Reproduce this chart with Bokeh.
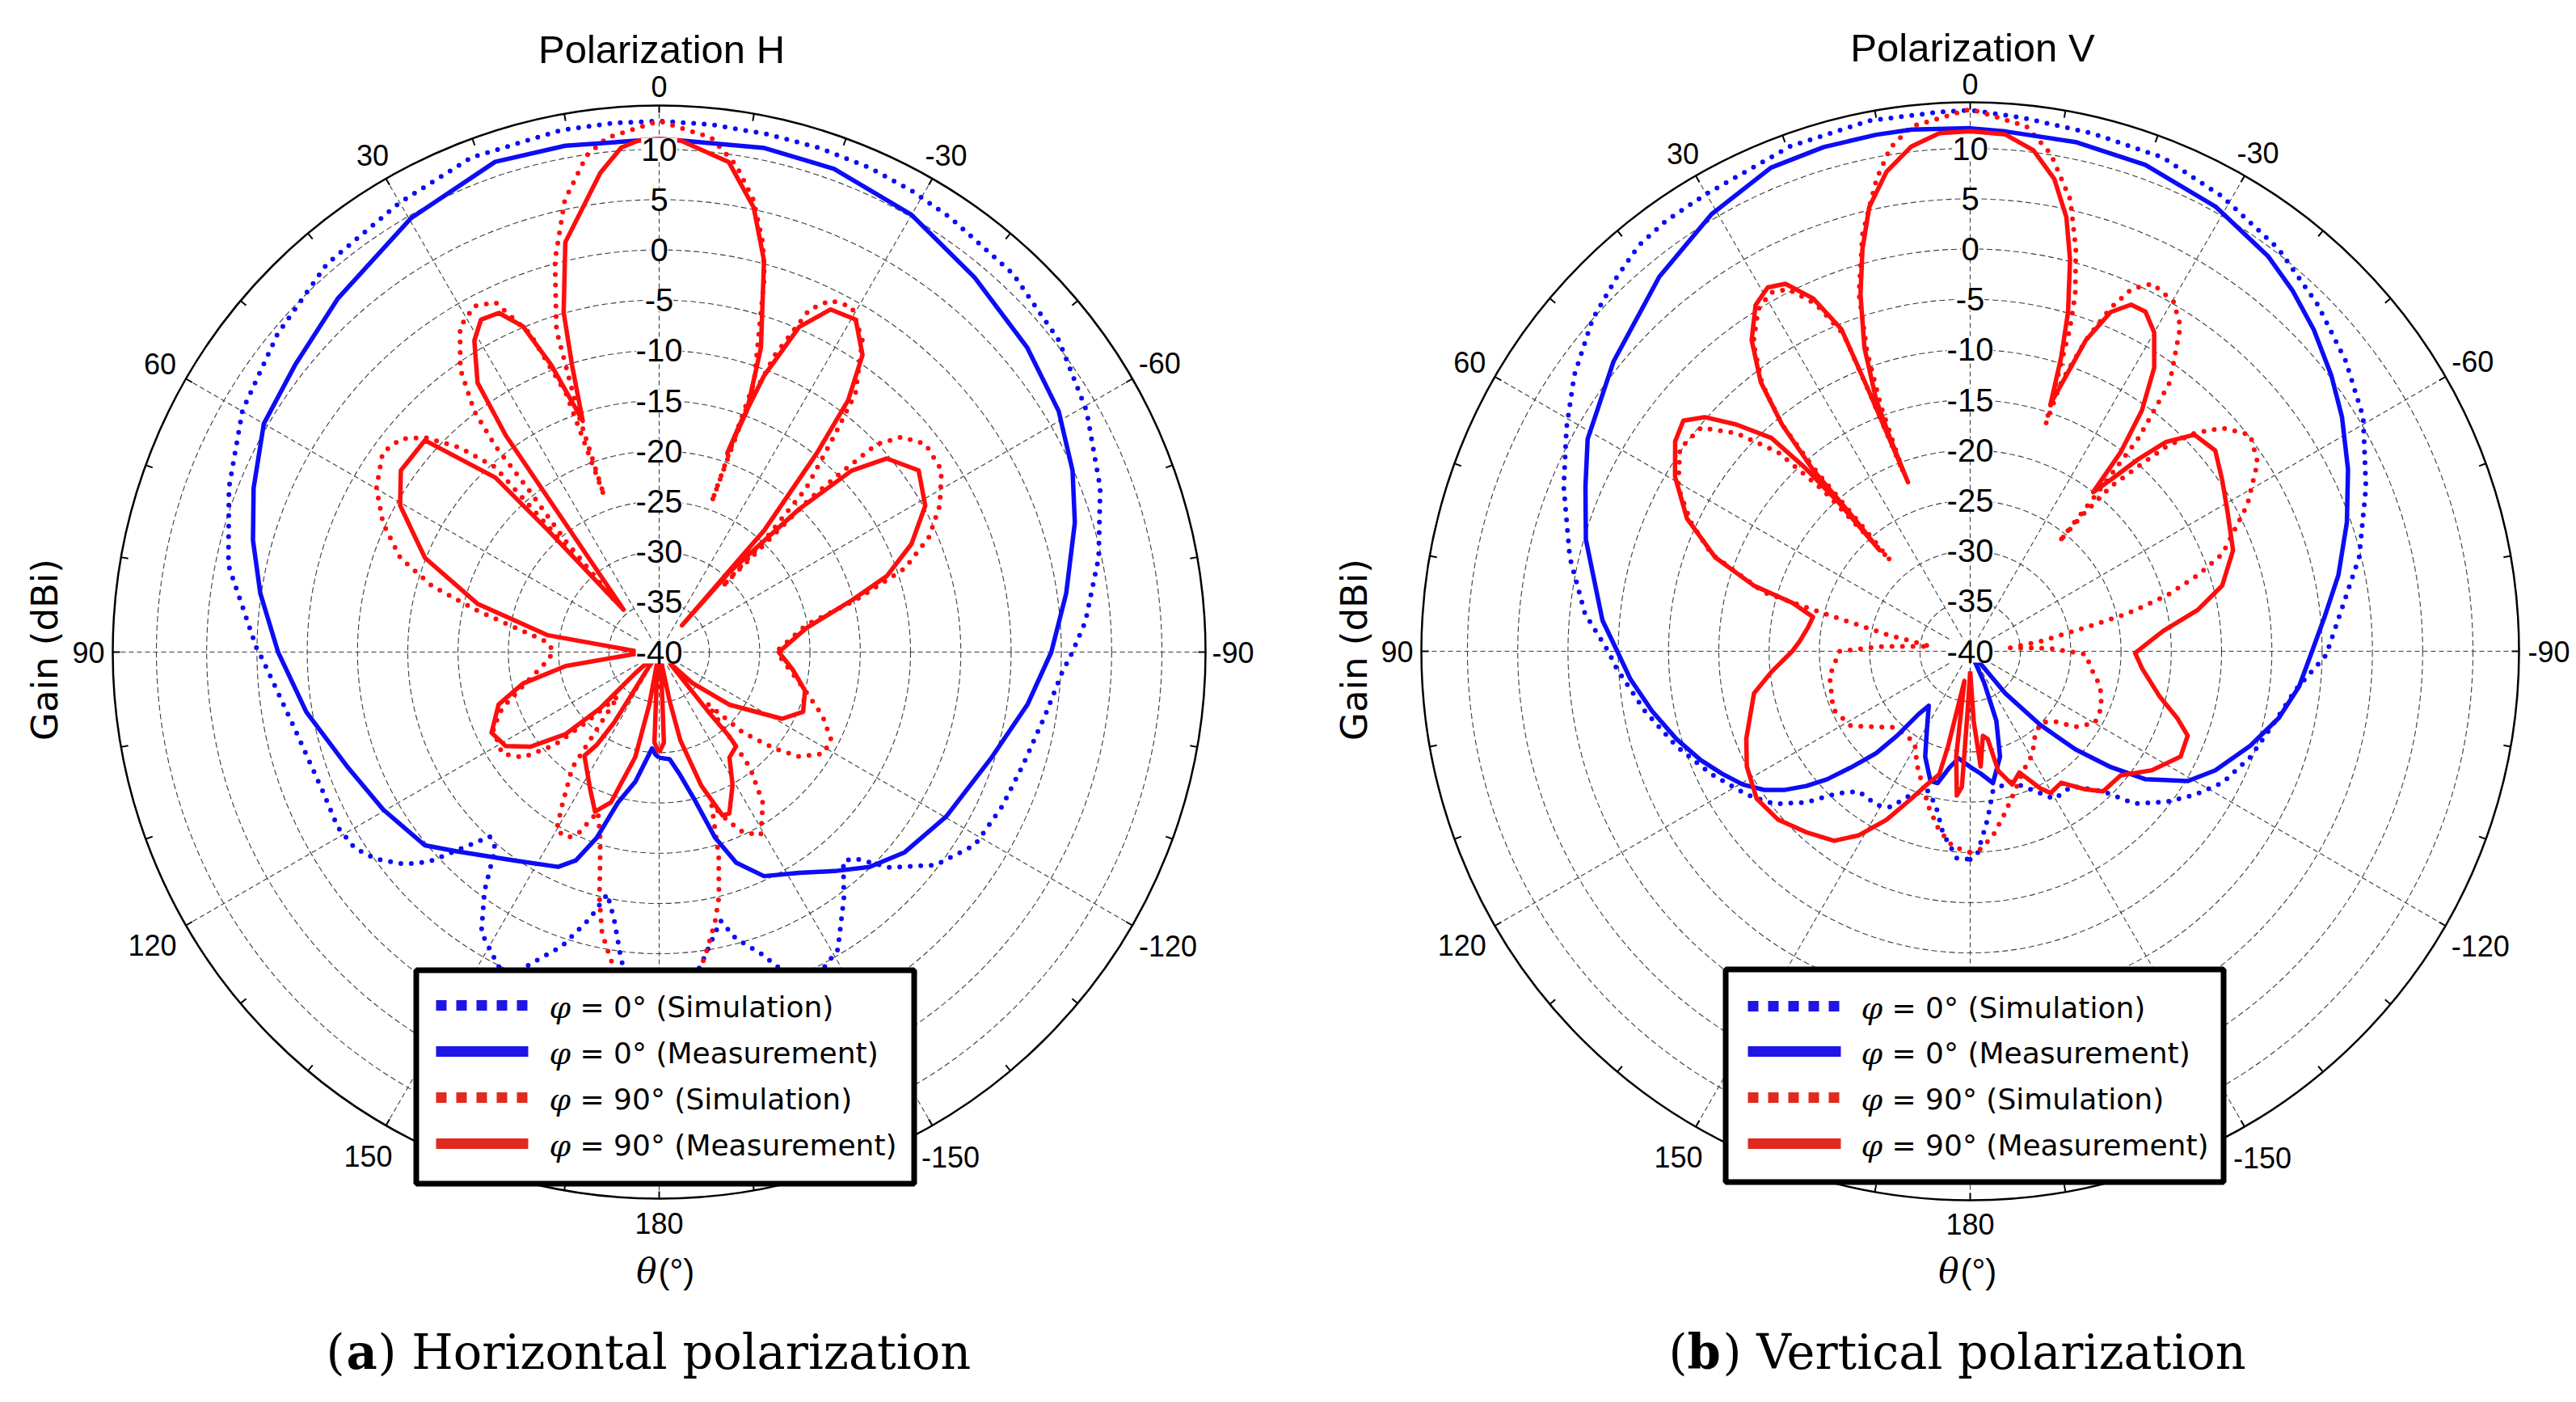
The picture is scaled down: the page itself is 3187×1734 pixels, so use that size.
import numpy as np
from bokeh.plotting import figure
from bokeh.layouts import row
from bokeh.models import Range1d
from bokeh.embed import file_html
from bokeh.resources import INLINE
from bokeh.core.properties import value

# ---------------- data: (theta in degrees, gain in dBi) ----------------
# (a) Horizontal polarization
H_SIM0 = [(-180, -4), (-176, -5.5), (-172.3, -8.7), (-167.1, -12.6), (-165, -10.5), (-161.4, -8.4),
          (-159.3, -6.5), (-156, -4.5), (-152.4, -4.6), (-149, -5.5), (-143.1, -9.4), (-138.6, -12.3),
          (-136.5, -11.7), (-133, -8.6), (-127.6, -5.3), (-121.4, -3.2), (-114.2, -2.6), (-107.1, -2.1),
          (-99.3, -1.1), (-93, 0.1), (-90, 1.1), (-85.9, 2.5), (-77.9, 4.7), (-69.6, 6.8), (-60.6, 8.8),
          (-52.1, 10.4), (-43.1, 11.5), (-33.8, 12.0), (-28.6, 12.3), (-23.5, 12.5), (-17.7, 12.6),
          (-11.8, 12.6), (-5.7, 12.7), (0, 12.8), (5, 12.8), (10.6, 12.8), (20.8, 12.6), (30, 11.6),
          (40.6, 10.8), (50.2, 9.4), (59.9, 7.9), (69.1, 5.8), (78.6, 3.7), (89.6, 0.0), (90.9, -0.5),
          (100.8, -2.8), (112.7, -3.8), (118.6, -3.6), (122.8, -4.0), (126.1, -5.1), (129.7, -7.0),
          (132.3, -9.0), (135.6, -13.2), (137.4, -15.1), (140.1, -14.6), (143.8, -10.6), (147.6, -7.0),
          (152, -5.3), (155, -4.0), (157.5, -6.4), (161.7, -9.2), (165.4, -12.6), (167.9, -15.4),
          (170.4, -13.1), (173, -9.1), (176, -5.5), (180, -4)]

H_MEAS0 = [(-180, -29.5), (-174.4, -29.3), (-170.3, -27.6), (-166.6, -25.0), (-163.2, -20.7), (-159.9, -17.7),
           (-154.9, -15.4), (-147.6, -14.0), (-141.3, -12.1), (-135.6, -10.1), (-129.2, -8.5), (-119.8, -7.1),
           (-107.5, -5.3), (-98.1, -3.0), (-90, -1.0), (-81.8, 0.9), (-72.7, 3.3), (-66.3, 4.9), (-58.9, 6.4),
           (-50.4, 7.5), (-40.1, 8.7), (-30, 10.2), (-19.9, 11.1), (-11.8, 11.2), (-2.4, 10.9), (0, 11.0),
           (2.3, 10.9), (10.5, 11.2), (18.5, 11.4), (29.8, 9.7), (42.3, 7.5), (51.8, 6.1), (60, 5.4), (68, 3.5),
           (74.6, 1.9), (81.6, 0.1), (90, -2.1), (99.6, -4.4), (110.4, -7.0), (119.7, -8.4), (129.5, -9.8),
           (134.4, -11.7), (144.9, -14.7), (154.8, -16.4), (158.2, -17.7), (161.4, -20.5), (164.7, -24.5),
           (169.6, -26.9), (175.8, -30.4), (178, -29.8), (180, -29.5)]

H_SIM90 = [(-180, -4), (-176, -5), (-171.5, -9.3), (-168.3, -12.6), (-166.3, -14.9), (-163.7, -18.9), (-161, -24),
           (-158, -22), (-155, -20.2), (-150.9, -19.2), (-145.5, -21.8), (-141.8, -25.4), (-137, -33),
           (-133.8, -28.4), (-129.8, -25.0), (-126.7, -22.6), (-121.7, -20.8), (-117, -20.8), (-111.2, -22.6),
           (-103.7, -25.3), (-93.3, -27.8), (-88.7, -28.1), (-79.5, -25.1), (-75.2, -19.8), (-71.2, -14.2),
           (-66.9, -10.8), (-62.4, -8.5), (-57.2, -6.6), (-52, -6.4), (-48.4, -7.8), (-46.3, -10.1),
           (-45.6, -13.7), (-44.5, -18.6), (-44, -31), (-43.3, -24.8), (-41.9, -18.1), (-39, -12.3),
           (-37.2, -7.7), (-33.1, -3.0), (-29.2, -0.7), (-26, -1.1), (-23.7, -2.8), (-21.3, -8.3),
           (-19.7, -14.2), (-19.3, -24.2), (-19.4, -11.6), (-16.7, -4.8), (-15.7, -1.3), (-14.2, 2.0),
           (-11.8, 5.9), (-9, 9.0), (-5.8, 11.4), (0, 12.8), (5.8, 11.4), (8.3, 9.9), (11.8, 5.9), (14.9, 0.3),
           (17.7, -6.4), (18.8, -15.4), (19.4, -23.5), (19.8, -12.7), (22.1, -5.8), (25.1, -1.6), (28.1, -1.0),
           (31.5, -2.1), (35.1, -5.6), (37.5, -9.8), (38.5, -13.8), (38.8, -19.3), (40.1, -25.5), (40.8, -33),
           (41.6, -15.4), (44.3, -11.6), (47.5, -8.4), (50.5, -6.7), (54.2, -6.1), (59.9, -7.5), (65, -9.7),
           (70, -12.6), (73.8, -16.5), (77.2, -21.5), (85, -28.9), (90, -29.5), (96, -28.5), (103.8, -26.1),
           (109.7, -23.4), (114.9, -21.8), (122.9, -21.4), (127.7, -22.9), (131.6, -26.1), (134, -30),
           (137, -34), (143.1, -25.6), (147.7, -21.9), (150.1, -19.5), (154, -19.5), (156.1, -20.4), (159, -23),
           (162.4, -20.6), (164.3, -18.3), (166.3, -14.9), (168.5, -11.5), (171.1, -9.0), (175, -5.5), (180, -4)]

H_MEAS90 = [(-180, -30), (-177, -31), (-174, -38), (-172, -40), (-167.9, -35), (-166.5, -31), (-162.5, -26.1),
            (-158.8, -22.6), (-156.5, -22.5), (-151.1, -24.9), (-146.3, -27.4), (-140.8, -27.9), (-140.2, -29.1),
            (-140.5, -32.3), (-136, -38.5), (-133, -35.5), (-126.9, -31.3), (-118.5, -26.1), (-112.5, -24.5),
            (-104.8, -25.0), (-97.5, -26.6), (-90, -28.1), (-80.8, -25.2), (-74.9, -20.1), (-71.5, -16.1),
            (-66.8, -12.7), (-61.2, -9.8), (-55, -8.5), (-49.6, -10.3), (-46.7, -13.7), (-44.4, -20.1),
            (-41.3, -29.4), (-40.5, -36.5), (-40.8, -24.0), (-38.4, -14.7), (-36.9, -8.7), (-34.4, -4.2),
            (-30.6, -1.6), (-26.6, -1.9), (-23.3, -4.8), (-20.8, -10.6), (-19.5, -16), (-18.9, -19.1),
            (-20, -14.5), (-18.5, -8.1), (-15, 0.3), (-12, 5.2), (-8.1, 9.2), (-2.4, 10.9), (0, 11.0),
            (2.3, 10.9), (4.3, 10.3), (7, 8.0), (12.9, 1.8), (15.7, -4.9), (16.9, -10.2), (18.3, -15.8),
            (20.6, -9.5), (22.7, -4.9), (25.3, -2.7), (28.2, -2.5), (30.7, -4.0), (34, -7.7), (35.3, -13.6),
            (36.1, -24.1), (40, -34.5), (42.4, -23.6), (43.2, -16.2), (47.9, -8.6), (54.9, -8.6), (60.5, -10.4),
            (68.1, -14.9), (75.1, -21.3), (81.4, -28.8), (87.5, -37.6), (90, -40), (94.2, -37.6), (98.5, -30.6),
            (103, -26.1), (108.1, -23.2), (115.7, -21.5), (121.5, -22.1), (126.3, -24.1), (131.2, -27.6),
            (133.6, -31.9), (131.4, -36.8), (138, -40), (145, -38.3), (147.4, -31.7), (146.1, -28.9),
            (144.2, -27.3), (153.1, -24.8), (158.1, -22.9), (162.2, -24.3), (167.2, -29.3), (169.4, -34.7),
            (172, -40), (174, -38), (177, -31), (180, -30)]

# (b) Vertical polarization
V_SIM0 = [(-180, -19.3), (-178, -19.8), (-174.1, -23.2), (-170.8, -25.9), (-163.4, -26.5), (-158.7, -25.6),
          (-150.3, -23.1), (-143, -23.2), (-136.5, -20.8), (-132.8, -17.7), (-127.5, -15.4), (-122.6, -13.5),
          (-117.5, -11.7), (-110.6, -10.2), (-103, -8.9), (-96.7, -7.4), (-90.6, -4.6), (-85.2, -3.3),
          (-76.4, -0.2), (-67.5, 2.6), (-59.2, 5.5), (-52.3, 7.2), (-45.1, 8.8), (-37.5, 10.4), (-29, 11.7),
          (-21.3, 12.7), (-13.3, 12.9), (-5.6, 13.3), (0, 13.8), (3.3, 13.7), (10.8, 13.7), (19.6, 13.3),
          (30, 12.5), (35.3, 12.4), (39.2, 12.1), (43.3, 11.2), (48.7, 10.0), (55.1, 8.0), (61, 5.9), (68, 3.6),
          (76.8, 0.9), (84.4, -1.5), (90, -4.0), (92.8, -4.8), (100.4, -7.1), (107.9, -9.3), (115.4, -11.5),
          (122.7, -13.6), (127.9, -15.3), (132.6, -17.8), (137, -20.7), (141.5, -22.2), (148.7, -22.1),
          (152.9, -22.6), (157.7, -24.6), (163, -25.5), (167.4, -24.3), (171.5, -21.7), (176.3, -19.4),
          (180, -19.3)]

V_MEAS0 = [(-180, -28.5), (-175.1, -27.8), (-170.2, -26.7), (-164.2, -29.1), (-159.4, -32.6), (-156, -36.6),
           (-153, -40), (-140.2, -34.6), (-136.4, -29.9), (-133, -25.7), (-129.5, -21.9), (-126.1, -18.4),
           (-120.8, -14.8), (-115.9, -12.9), (-108.6, -10.6), (-102.2, -8.6), (-96.1, -7.1), (-90, -6.0),
           (-84.5, -4.6), (-78.3, -2.6), (-71.1, -0.4), (-64.3, 1.7), (-57.8, 3.7), (-52.6, 5.2), (-46.9, 6.8),
           (-41.8, 8.1), (-37, 9.2), (-28.9, 10.5), (-19.8, 11.4), (-11.7, 11.7), (-3.9, 11.8), (0, 12.0),
           (6.4, 12.2), (10.3, 12.2), (16.2, 12.2), (22.4, 12.0), (30.6, 10.5), (39.7, 8.4), (50.9, 5.7),
           (61, 3.5), (66.9, 1.6), (73.8, -0.2), (85.2, -3.3), (90, -4.9), (94.7, -6.1), (100.6, -7.8),
           (106.6, -9.5), (112, -11.1), (116.3, -12.5), (120.4, -13.8), (123.9, -15.3), (126.8, -17.0),
           (129.4, -18.9), (131.8, -20.9), (134.3, -23.5), (137.3, -26.2), (139.1, -28.9), (140.6, -31.9),
           (142.7, -33.2), (150.8, -31.2), (156.9, -28.6), (163, -26.5), (166.1, -26.5), (170, -28.3),
           (173.8, -29.3), (180, -28.5)]

V_SIM90 = [(-180, -20), (-177, -20.3), (-173, -21.5), (-168, -23.5), (-162, -25.5), (-156, -27), (-149, -28),
           (-142, -29.5), (-135, -30), (-129.8, -29.1), (-125.6, -27.1), (-120, -25.7), (-113.1, -25.8),
           (-105.1, -26.6), (-98.4, -27.8), (-91.5, -28.5), (-88, -32), (-85, -36), (-82, -33), (-78.4, -28.3),
           (-76.5, -23.9), (-74.2, -19.7), (-71.5, -16.1), (-68.9, -13.1), (-62.1, -8.8), (-56.7, -5.8),
           (-52.3, -4.8), (-48.5, -6.5), (-45.8, -8.9), (-43.8, -11.8), (-42.3, -15.1), (-40.5, -18.5),
           (-39.5, -22.5), (-39.1, -26), (-38.8, -20), (-38.3, -13), (-36.6, -6.7), (-32.9, -1.5), (-30.2, 0.2),
           (-26.4, 0.8), (-24, -0.6), (-22.2, -3.2), (-20.4, -7), (-18.7, -11.7), (-18.4, -16.2), (-17.2, -6.5),
           (-16.4, -3), (-14.7, 1.4), (-12.5, 6), (-9.2, 10.1), (-6.1, 12.5), (0, 13.9), (6.4, 12.5), (9, 10.7),
           (11.2, 7.9), (14.5, 2.8), (17.3, -2.8), (19, -8.5), (20, -14), (20.5, -21), (21.3, -12.5),
           (21.8, -6), (24, -2.2), (26.7, 0.3), (29.1, 0.8), (31.8, 0), (35.1, -2.5), (37.9, -6.3),
           (39.7, -10.7), (40.5, -16), (40.8, -23.1), (41.3, -28), (42.4, -18.4), (44, -12.5), (47, -8.2),
           (50.3, -5.2), (55.1, -4.8), (60.7, -6.7), (65.2, -9.4), (69.4, -12.5), (74.1, -18.7), (75.5, -25),
           (78.6, -31.5), (83, -36), (87, -31), (90, -27), (100, -25.8), (113, -25.2), (122, -26),
           (128, -27.8), (135, -29.3), (142, -29.5), (149, -29.3), (155, -27.5), (160, -26), (165, -24),
           (170, -22), (175, -20.5), (180, -20)]

V_MEAS90 = [(-180, -38), (-177.1, -33.0), (-174.8, -28.5), (-171.5, -31.5), (-168.7, -31.1), (-166.8, -27.8),
            (-162.5, -26.1), (-157.9, -27.0), (-152.9, -24.7), (-150.4, -23.8), (-145.3, -24.1), (-140.1, -22.1),
            (-136.5, -20.8), (-129.5, -20.6), (-123.2, -18.4), (-116.6, -16.6), (-111.2, -16.8), (-107.8, -18.4),
            (-103.5, -20.6), (-95.8, -22.8), (-90.6, -23.6), (-84, -20.7), (-79.7, -17.0), (-75.4, -14.1),
            (-69, -12.0), (-61.6, -10.9), (-55.8, -9.7), (-50.7, -8.5), (-46, -9.0), (-43.1, -11.5),
            (-41.2, -14.6), (-39.3, -18.0), (-37.7, -20.0), (-37.1, -15.2), (-35.5, -10.6), (-33, -6.4),
            (-30, -3.4), (-27.3, -2.0), (-24.9, -2.0), (-22.5, -3.5), (-20.4, -7.0), (-19.1, -11.3), (-18, -14.1),
            (-17.2, -9.4), (-16.1, -4.9), (-14.3, 0.2), (-12.5, 4.2), (-10.1, 7.7), (-7.2, 10.2), (-3.9, 11.5),
            (0, 11.7), (3.4, 11.6), (6.7, 10.5), (9.9, 8.4), (12.8, 5.3), (15, 1.4), (17.1, -2.9), (19.2, -8.0),
            (20.5, -13.3), (20.6, -17.4), (20.2, -22.1), (21.3, -12.0), (21.8, -5.5), (24, -1.6), (26.7, 0.9),
            (29.1, 1.4), (31.8, 0.5), (35.1, -2.2), (37.9, -6.1), (39.7, -10.7), (40.9, -16.1), (41.1, -22.1),
            (41.9, -26.5), (41.5, -20.3), (42, -15.4), (43, -11.0), (45.9, -7.6), (48.6, -4.8), (51.2, -3.4),
            (54.6, -4.0), (59.4, -5.9), (64.9, -8.9), (69.8, -13.0), (73.1, -17.5), (74.8, -21.7), (77.7, -24.0),
            (81.6, -23.7), (86.7, -23.0), (90, -22.3), (96, -20.1), (101, -18.1), (111.3, -16.1), (117.3, -15.0),
            (124.6, -14.2), (131.2, -14.6), (137.7, -15.7), (144.3, -16.8), (148.8, -18.6), (153.6, -21.3),
            (158.2, -24.2), (161.6, -25.9), (165.9, -27.4), (166.9, -30.3), (167.5, -34.1), (169, -37),
            (172.4, -29.5), (174.7, -25.6), (176.5, -26.5), (177.5, -34), (180, -38)]

GAIN_TICKS = [10, 5, 0, -5, -10, -15, -20, -25, -30, -35, -40]
ANGLE_TICKS = [0, 30, 60, 90, 120, 150, 180, -150, -120, -90, -60, -30]
LEGEND_TEXT = ["= 0° (Simulation)", "= 0° (Measurement)", "= 90° (Simulation)", "= 90° (Measurement)"]
TITLES = ["Polarization H", "Polarization V"]
CAPTIONS = [("a", ") Horizontal polarization"), ("b", ") Vertical polarization")]

# ---------------- style ----------------
G_MIN = -40.0
K = 12.44          # pixels per dB
FIG_H = 1734
BLUE = "#0c0cf6"
RED = "#ff0d0d"
LEG_COLORS = ["#2014e6", "#2014e6", "#e02a20", "#e02a20"]
LEG_DASH = ["13 12", "solid", "13 12", "solid"]
GRID = "#3c3c3c"
SANS = value("Liberation Sans")
DJ = value("DejaVu Sans")
SERIF = value("DejaVu Serif")


def unzip(pts):
    a = np.array(pts, dtype=float)
    return a[:, 0], a[:, 1]


def polar_xy(theta, gain):
    t = np.radians(theta)
    r = np.maximum(gain, G_MIN) - G_MIN
    return -r * np.sin(t), r * np.cos(t)


PANELS = [
    dict(ox=0, W=1598, cx=815, cy=806, rout=676, title=TITLES[0], title_xy=(818, 60),
         ylab_xy=(55, 803), theta_split=(812, 1572), cap=CAPTIONS[0], cap_x=(403, 428, 467), cap_y=1672,
         box=(511, 1196, 1134, 1467), samp=(539, 653), rows=[1243, 1300, 1357, 1414], phi_x=679, txt_x=717,
         label_r={0: 700, 30: 709, 60: 713, 90: 706, 120: 724, 150: 720, 180: 706,
                  -150: 721, -120: 727, -90: 710, -60: 715, -30: 710},
         series=[(H_SIM0, BLUE, True), (H_SIM90, RED, True), (H_MEAS0, BLUE, False), (H_MEAS90, RED, False)]),
    dict(ox=1598, W=1589, cx=2437, cy=805, rout=679, title=TITLES[1], title_xy=(2440, 58),
         ylab_xy=(1675, 803), theta_split=(2423, 1572), cap=CAPTIONS[1], cap_x=(2064, 2087, 2131), cap_y=1672,
         box=(2131, 1195, 2754, 1465), samp=(2162, 2277), rows=[1244, 1300, 1357, 1414], phi_x=2302, txt_x=2340,
         label_r={0: 702, 30: 711, 60: 715, 90: 709, 120: 726, 150: 722, 180: 708,
                  -150: 723, -120: 729, -90: 716, -60: 718, -30: 712},
         series=[(V_SIM0, BLUE, True), (V_SIM90, RED, True), (V_MEAS0, BLUE, False), (V_MEAS90, RED, False)]),
]


def panel(c):
    ox, W, cx, cy = c["ox"], c["W"], c["cx"], c["cy"]

    def D(px, py):
        return (px - cx) / K, (cy - py) / K

    p = figure(width=W, height=FIG_H,
               x_range=Range1d((ox - cx) / K, (ox + W - cx) / K),
               y_range=Range1d((cy - FIG_H) / K, cy / K),
               toolbar_location=None, output_backend="svg", min_border=0,
               x_axis_location=None, y_axis_location=None, outline_line_color=None,
               background_fill_color="white", border_fill_color="white")
    p.xgrid.visible = False
    p.ygrid.visible = False

    r_out = c["rout"] / K
    # dashed gain circles
    rr = [g - G_MIN for g in GAIN_TICKS if g > G_MIN]
    p.circle(x=[0] * len(rr), y=[0] * len(rr), radius=rr, fill_color=None,
             line_color=GRID, line_width=1.1, line_dash="7 4")
    # dashed spokes every 30 deg
    sa = np.radians(np.arange(0, 360, 30))
    p.segment(x0=np.zeros(len(sa)), y0=np.zeros(len(sa)), x1=-r_out * np.sin(sa), y1=r_out * np.cos(sa),
              line_color=GRID, line_width=1.1, line_dash="6 4")

    # data curves
    for pts, color, dotted in c["series"]:
        th, g = unzip(pts)
        x, y = polar_xy(th, g)
        if dotted:
            p.line(x, y, line_color=color, line_width=6, line_dash="0 13", line_cap="round",
                   line_join="round")
        else:
            p.line(x, y, line_color=color, line_width=5.5, line_join="round")

    # outer circle + ticks every 10 deg
    p.circle(x=[0], y=[0], radius=[r_out], fill_color=None, line_color="black", line_width=2.5)
    ta = np.radians(np.arange(0, 360, 10))
    ri = r_out - 9 / K
    p.segment(x0=-r_out * np.sin(ta), y0=r_out * np.cos(ta), x1=-ri * np.sin(ta), y1=ri * np.cos(ta),
              line_color="black", line_width=2)

    # gain labels on the vertical axis
    p.text(x=[0] * len(GAIN_TICKS), y=[g - G_MIN for g in GAIN_TICKS], text=[str(g) for g in GAIN_TICKS],
           text_align="center", text_baseline="middle", text_font=SANS, text_font_size="40px",
           text_color="black", background_fill_color="white")

    # angle labels
    lr = np.array([c["label_r"][a] for a in ANGLE_TICKS]) / K
    at = np.radians(ANGLE_TICKS)
    p.text(x=-lr * np.sin(at), y=lr * np.cos(at), text=[str(a) for a in ANGLE_TICKS],
           text_align="center", text_baseline="middle", text_font=SANS, text_font_size="36px",
           text_color="black")

    # title
    tx, ty = D(*c["title_xy"])
    p.text(x=[tx], y=[ty], text=[c["title"]], text_align="center", text_baseline="middle",
           text_font=SANS, text_font_size="49px", text_color="black")
    # Gain (dBi)
    gx, gy = D(*c["ylab_xy"])
    p.text(x=[gx], y=[gy], text=["Gain (dBi)"], angle=np.pi / 2, text_align="center",
           text_baseline="middle", text_font=DJ, text_font_size="45px", text_color="black")
    # theta(°)
    sx, sy = D(*c["theta_split"])
    p.text(x=[sx], y=[sy], text=["θ"], text_align="right", text_baseline="middle",
           text_font=SERIF, text_font_style="italic", text_font_size="42px", text_color="black")
    p.text(x=[sx + 2 / K], y=[sy], text=["(°)"], text_align="left", text_baseline="middle",
           text_font=SANS, text_font_size="42px", text_color="black")

    # caption
    letter, rest = c["cap"]
    x0, x1, x2 = c["cap_x"]
    _, cyb = D(0, c["cap_y"])
    p.text(x=[D(x0, 0)[0]], y=[cyb], text=["("], text_align="left", text_baseline="middle",
           text_font=SERIF, text_font_size="59px", text_color="black")
    p.text(x=[D(x1, 0)[0]], y=[cyb], text=[letter], text_align="left", text_baseline="middle",
           text_font=SERIF, text_font_style="bold", text_font_size="59px", text_color="black")
    p.text(x=[D(x2, 0)[0]], y=[cyb], text=[rest], text_align="left", text_baseline="middle",
           text_font=SERIF, text_font_size="59px", text_color="black")

    # legend
    bx0, by0, bx1, by1 = c["box"]
    l, t = D(bx0 + 3.5, by0 + 3.5)
    r, b = D(bx1 - 3.5, by1 - 3.5)
    p.quad(left=[l], right=[r], top=[t], bottom=[b], fill_color="white", line_color="black", line_width=7)
    for i, yrow in enumerate(c["rows"]):
        s0, yy = D(c["samp"][0], yrow)
        s1, _ = D(c["samp"][1], yrow)
        p.line([s0, s1], [yy, yy], line_color=LEG_COLORS[i], line_width=13, line_dash=LEG_DASH[i],
               line_cap="butt")
        fx, fy = D(c["phi_x"], yrow + 2)
        p.text(x=[fx], y=[fy], text=["φ"], text_align="left", text_baseline="middle", text_font=SERIF,
               text_font_style="italic", text_font_size="38px", text_color="black")
        lx, ly = D(c["txt_x"], yrow + 2)
        p.text(x=[lx], y=[ly], text=[LEGEND_TEXT[i]], text_align="left", text_baseline="middle",
               text_font=DJ, text_font_size="36px", text_color="black")
    return p


layout = row(panel(PANELS[0]), panel(PANELS[1]))
open("out.html", "w").write(file_html(layout, INLINE, title="Radiation patterns"))
